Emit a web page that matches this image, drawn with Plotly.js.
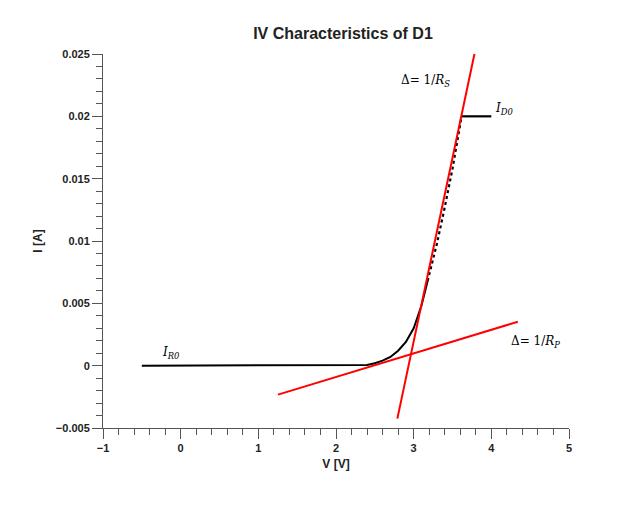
<!DOCTYPE html>
<html>
<head>
<meta charset="utf-8">
<script src="https://cdn.plot.ly/plotly-3.0.1.min.js"></script>
<style>html,body{margin:0;padding:0;background:#fff;}#chart{width:618px;height:511px;}</style>
</head>
<body>
<div id="chart"></div>
<script>
// Diode IV curve (solid part)
const curveV = [-0.5, 0, 1, 2, 2.3, 2.4, 2.5, 2.6, 2.7, 2.8, 2.9, 3.0, 3.1, 3.18];
const curveI = [0, 0, 0, 0, 0, 0.00005, 0.0002, 0.0004, 0.0007, 0.0012, 0.0019, 0.003, 0.0048, 0.0068];
// Diode IV curve (dotted continuation)
const dotV = [3.18, 3.3, 3.4, 3.5, 3.617];
const dotI = [0.0068, 0.0098, 0.0127, 0.0158, 0.02];
// I_D0 saturation segment
const satV = [3.617, 4.0];
const satI = [0.02, 0.02];
// Tangent line 1/R_S
const rsV = [2.79, 3.786];
const rsI = [-0.00425, 0.0251];
// Tangent line 1/R_P
const rpV = [1.253, 4.341];
const rpI = [-0.00232, 0.003526];

const traces = [
  {x: curveV, y: curveI, mode: 'lines', line: {color: '#000', width: 2}, hoverinfo: 'skip'},
  {x: dotV, y: dotI, mode: 'lines', line: {color: '#000', width: 2.2, dash: 'dot'}, hoverinfo: 'skip'},
  {x: satV, y: satI, mode: 'lines', line: {color: '#000', width: 2.2}, hoverinfo: 'skip'},
  {x: rsV, y: rsI, mode: 'lines', line: {color: '#ff0000', width: 2}, hoverinfo: 'skip'},
  {x: rpV, y: rpI, mode: 'lines', line: {color: '#ff0000', width: 2}, hoverinfo: 'skip'}
];

const serif = {family: 'DejaVu Serif, Liberation Serif, serif', size: 12, color: '#000'};

const layout = {
  width: 618, height: 511,
  margin: {l: 103, r: 49, t: 54, b: 83},
  paper_bgcolor: '#fff', plot_bgcolor: '#fff',
  showlegend: false,
  title: {text: '<b>IV Characteristics of D1</b>', x: 0.555, xanchor: 'center', y: 0.935, yanchor: 'middle',
          font: {family: 'Liberation Sans, Arial, sans-serif', size: 16, color: '#222'}},
  xaxis: {
    range: [-1, 5], dtick: 1, tick0: 0,
    showgrid: false, zeroline: false, showline: true, linecolor: '#555', linewidth: 1,
    ticks: 'outside', ticklen: 10, tickcolor: '#555', tickwidth: 1,
    minor: {ticks: 'outside', dtick: 0.2, ticklen: 6, tickcolor: '#555', showgrid: false},
    tickfont: {family: 'Liberation Sans, Arial, sans-serif', size: 11, color: '#222', weight: 'bold'},
    title: {text: '<b>V [V]</b>', standoff: 6, font: {family: 'Liberation Sans, Arial, sans-serif', size: 12, color: '#222'}}
  },
  yaxis: {
    range: [-0.005, 0.025], dtick: 0.005, tick0: 0,
    showgrid: false, zeroline: false, showline: true, linecolor: '#555', linewidth: 1,
    ticks: 'outside', ticklen: 10, tickcolor: '#555', tickwidth: 1,
    minor: {ticks: 'outside', dtick: 0.001, ticklen: 6, tickcolor: '#555', showgrid: false},
    tickformat: '~g',
    tickfont: {family: 'Liberation Sans, Arial, sans-serif', size: 11, color: '#222', weight: 'bold'},
    title: {text: '<b>I [A]</b>', standoff: 10, font: {family: 'Liberation Sans, Arial, sans-serif', size: 12, color: '#222'}}
  },
  annotations: [
    {x: 3.15, y: 0.0228, xref: 'x', yref: 'y', text: 'Δ= 1/<i>R<sub>S</sub></i>', showarrow: false, font: serif, xanchor: 'center'},
    {x: 4.16, y: 0.0206, xref: 'x', yref: 'y', text: '<i>I<sub>D0</sub></i>', showarrow: false, font: serif, xanchor: 'center'},
    {x: 4.57, y: 0.0019, xref: 'x', yref: 'y', text: 'Δ= 1/<i>R<sub>P</sub></i>', showarrow: false, font: serif, xanchor: 'center'},
    {x: -0.12, y: 0.001, xref: 'x', yref: 'y', text: '<i>I<sub>R0</sub></i>', showarrow: false, font: serif, xanchor: 'center'}
  ]
};

Plotly.newPlot('chart', traces, layout, {displayModeBar: false, staticPlot: true});
</script>
</body>
</html>
